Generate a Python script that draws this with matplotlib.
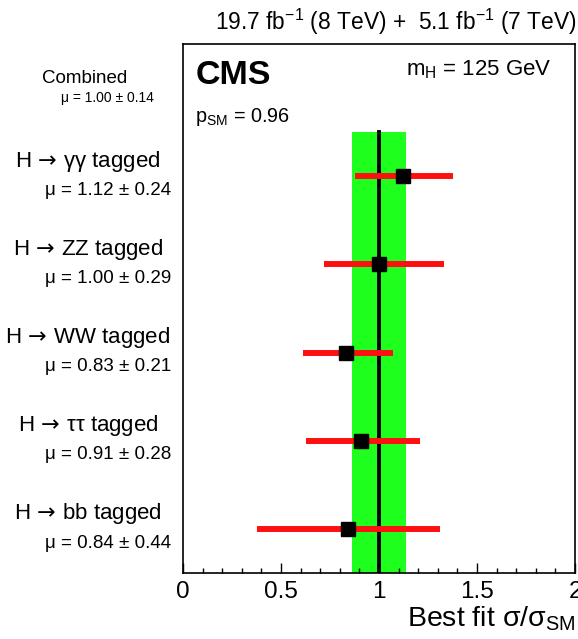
import matplotlib
matplotlib.use('Agg')
import matplotlib.pyplot as plt
from matplotlib.ticker import MultipleLocator, FuncFormatter

plt.rcParams['font.family'] = ['Liberation Sans', 'DejaVu Sans']
plt.rcParams['mathtext.fontset'] = 'custom'
plt.rcParams['mathtext.rm'] = 'Liberation Sans'
plt.rcParams['mathtext.it'] = 'Liberation Sans:italic'
plt.rcParams['mathtext.bf'] = 'Liberation Sans:bold'
plt.rcParams['mathtext.sf'] = 'DejaVu Sans'  # only used for the arrow

# Data (top to bottom)
arrow = '$\\,\\mathsf{\\rightarrow}\\,$'
channels = ['H' + arrow + 'γγ tagged', 'H' + arrow + 'ZZ tagged', 'H' + arrow + 'WW tagged',
            'H' + arrow + 'ττ tagged', 'H' + arrow + 'bb tagged']
mu_text = ['μ = 1.12 ± 0.24', 'μ = 1.00 ± 0.29', 'μ = 0.83 ± 0.21', 'μ = 0.91 ± 0.28', 'μ = 0.84 ± 0.44']
mu = [1.12, 1.00, 0.83, 0.91, 0.84]
err_lo = [0.24, 0.28, 0.22, 0.28, 0.46]
err_hi = [0.26, 0.33, 0.24, 0.30, 0.47]
rows = [4.5, 3.5, 2.5, 1.5, 0.5]

comb_mu = 1.00
comb_err = 0.14

fig = plt.figure(figsize=(5.78, 6.39), dpi=100)
ax = fig.add_axes([183 / 578, 66 / 639, 392 / 578, 529 / 639])

# combined band and central line
ax.fill_betweenx([0, 5], comb_mu - comb_err, comb_mu + comb_err, color='#1eff1e', lw=0, zorder=1)
ax.plot([comb_mu, comb_mu], [0, 5], color='black', lw=2.8, zorder=2)

# per-channel results
for y, m, lo, hi in zip(rows, mu, err_lo, err_hi):
    ax.plot([m - lo, m + hi], [y, y], color='#ff1010', lw=4.3, solid_capstyle='butt', zorder=3)
ax.plot(mu, rows, 's', color='black', markersize=10, zorder=4)

ax.set_xlim(0, 2)
ax.set_ylim(0, 6)
ax.set_yticks([])
ax.xaxis.set_major_locator(MultipleLocator(0.5))
ax.xaxis.set_minor_locator(MultipleLocator(0.1))
ax.xaxis.set_major_formatter(FuncFormatter(lambda v, p: ('%g' % v)))
ax.tick_params(axis='x', which='major', direction='in', length=7, width=1, labelsize=17.5, pad=6)
ax.tick_params(axis='x', which='minor', direction='in', length=3.5, width=1)
for s in ax.spines.values():
    s.set_linewidth(1.2)

# labels on the left
for y, name, mt in zip(rows, channels, mu_text):
    ax.text(-0.485, y + 0.17, name, ha='center', va='center', fontsize=16, clip_on=False)
    ax.text(-0.383, y - 0.16, mt, ha='center', va='center', fontsize=13.5, clip_on=False)
ax.text(-0.5, 5.61, 'Combined', ha='center', va='center', fontsize=13.5, clip_on=False)
ax.text(-0.383, 5.39, 'μ = 1.00 ± 0.14', ha='center', va='center', fontsize=10, clip_on=False)

ax.text(0.032, 0.94, 'CMS', transform=ax.transAxes, ha='left', va='center',
        fontsize=24.5, fontweight='bold')
ax.text(0.941, 0.951, r'm$_\mathregular{H}$ = 125 GeV', transform=ax.transAxes,
        ha='right', va='center', fontsize=16)
ax.text(0.031, 0.862, r'p$_\mathregular{SM}$ = 0.96', transform=ax.transAxes,
        ha='left', va='center', fontsize=14.3)

fig.text(0.997, 0.965, r'19.7 fb$^{\mathregular{-1}}$ (8 TeV) +  5.1 fb$^{\mathregular{-1}}$ (7 TeV)',
         ha='right', va='center', fontsize=16.4)
fig.text(0.995, 0.032, r'Best fit σ/σ$_\mathregular{SM}$', ha='right', va='center', fontsize=20.5)

fig.savefig('out.png', dpi=100)
